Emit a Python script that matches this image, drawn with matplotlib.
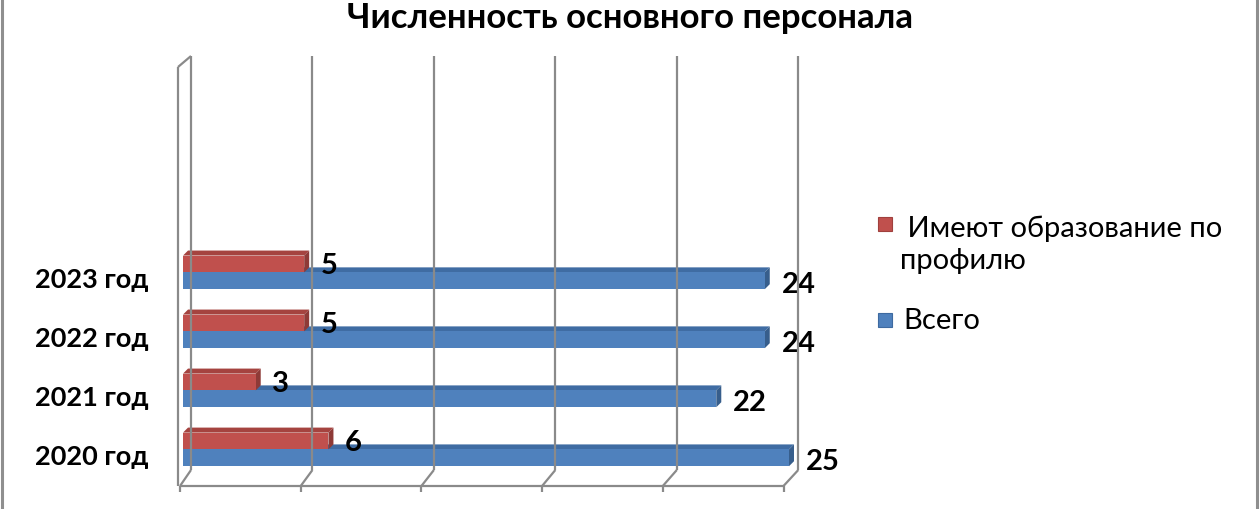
import numpy as np
import matplotlib
matplotlib.use("Agg")
import matplotlib.pyplot as plt
from matplotlib.patches import Polygon, Rectangle
from matplotlib.lines import Line2D
from matplotlib.transforms import IdentityTransform

# ---- data ----
categories = ["2020 год", "2021 год", "2022 год", "2023 год"]
profile_vals = [6, 3, 5, 5]      # Имеют образование по профилю
total_vals = [25, 22, 24, 24]    # Всего
series_names = [" Имеют образование по\nпрофилю", "Всего"]
title = "Численность основного персонала"
x_ticks = [0, 5, 10, 15, 20, 25]

plt.rcParams['font.family'] = ['Lato', 'DejaVu Sans']

W, H, DPI = 1260, 510, 100
fig = plt.figure(figsize=(W / DPI, H / DPI), dpi=DPI)
fig.patch.set_facecolor("white")

# axes: front plane of bars
L, R, B, T = 183, 789, 487, 68
ax = fig.add_axes([L / W, (H - B) / H, (R - L) / W, (B - T) / H])
ax.set_xlim(0, 25)
ax.set_ylim(-0.62, 6.48)
ax.axis("off")

red, red_side, red_top = "#C0504D", "#8E3A37", "#A5433F"
blue, blue_side, blue_top = "#4F81BD", "#375E8C", "#3F6CA3"
grid_c = "#8A8A8A"

bh = 0.285
y = np.arange(len(categories))
DX, DY = 5, 5  # depth offset, px


def to_pix(x, yy):
    return ax.transData.transform((x, yy))


def add_3d(vals, y0, face, side, top, z):
    bars = ax.barh(y0, vals, height=bh, align="edge", color=face, zorder=z, linewidth=0)
    for rect in bars:
        x1 = rect.get_width()
        yb, yt = rect.get_y(), rect.get_y() + rect.get_height()
        p00 = to_pix(0, yt)
        p10 = to_pix(x1, yt)
        p11 = to_pix(x1, yb)
        topface = [p00, p10, p10 + [DX, DY], p00 + [DX, DY]]
        sideface = [p11, p10, p10 + [DX, DY], p11 + [DX, DY]]
        ax.add_patch(Polygon(topface, closed=True, transform=IdentityTransform(),
                             facecolor=top, edgecolor="none", zorder=z - 0.5, clip_on=False))
        ax.add_patch(Polygon(sideface, closed=True, transform=IdentityTransform(),
                             facecolor=side, edgecolor="none", zorder=z - 0.5, clip_on=False))
    return bars


# ---- 3D frame (gridlines, floor, wall) in pixel space ----
lines = []
back_top, back_bot, front_bot = 57, 471, 487
for v in x_ticks:
    xd = to_pix(v, 0)[0]
    xb = xd + 8 + v * 0.05
    xf = xd - 3 - v * 0.1
    lines.append(([xb, xb], [H - back_top, H - back_bot]))          # back gridline
    lines.append(([xb, xf], [H - back_bot, H - front_bot]))          # floor diagonal
    lines.append(([xf, xf], [H - front_bot, H - front_bot - 6]))     # small tick
x0f = to_pix(0, 0)[0] - 3
x25f = to_pix(25, 0)[0] - 3 - 2.5
lines.append(([x0f, x25f], [H - front_bot, H - front_bot]))          # front floor line
lines.append(([x0f - 2, x0f - 2], [H - front_bot, H - 68]))          # left wall front edge
lines.append(([x0f - 2, to_pix(0, 0)[0] + 8], [H - 68, H - back_top]))  # wall top edge
for xs, ys in lines:
    fig.lines.append(Line2D(xs, ys, transform=IdentityTransform(), color=grid_c,
                            lw=1.6, zorder=0, figure=fig, solid_capstyle="butt"))

# bars: blue below boundary, red above (red drawn in front)
add_3d(total_vals, y - bh, blue, blue_side, blue_top, 2)
add_3d(profile_vals, y, red, red_side, red_top, 4)

# value labels
for i, v in enumerate(profile_vals):
    ax.annotate(str(v), (v, i + bh / 2), xytext=(12, -1), textcoords="offset points",
                ha="left", va="center", fontsize=21, fontweight="bold", color="black",
                zorder=6, annotation_clip=False)
for i, v in enumerate(total_vals):
    ax.annotate(str(v), (v, i - bh / 2), xytext=(12, -2.5), textcoords="offset points",
                ha="left", va="center", fontsize=21, fontweight="bold", color="black",
                zorder=6, annotation_clip=False)

# category labels
for i, c in enumerate(categories):
    ax.annotate(c, (0, i), xytext=(-25, -5), textcoords="offset points",
                ha="right", va="center", fontsize=19.5, fontweight="bold", color="black",
                annotation_clip=False)

# title
fig.text(0.5, 1 - 18 / H, title, ha="center", va="center", fontsize=25, fontweight="bold")

# legend (manual, Excel style)
fig.patches.append(Rectangle((878, H - 232), 14, 14, transform=IdentityTransform(),
                             facecolor=red, edgecolor="#A0403D", lw=0.8, figure=fig))
fig.patches.append(Rectangle((878, H - 328), 14, 14, transform=IdentityTransform(),
                             facecolor=blue, edgecolor="#3E6AA0", lw=0.8, figure=fig))
fig.text(900 / W, 1 - 245 / H, series_names[0], ha="left", va="center", fontsize=21,
         linespacing=1.3)
fig.text(903 / W, 1 - 321 / H, series_names[1], ha="left", va="center", fontsize=21)

# outer frame lines
for xp in (2, 1257):
    fig.lines.append(Line2D([xp, xp], [0, H], transform=IdentityTransform(), color="#8F8F8F",
                            lw=2.2, figure=fig))

fig.savefig("out.png", dpi=DPI)
